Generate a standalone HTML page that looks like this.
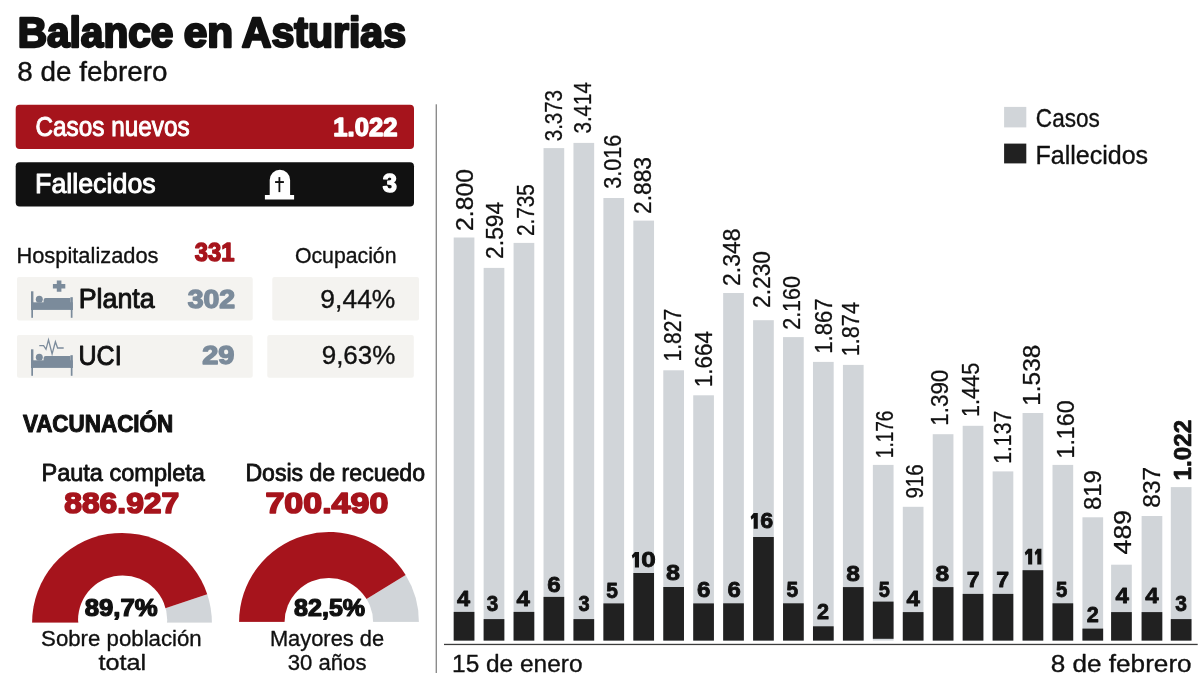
<!DOCTYPE html>
<html lang="es"><head><meta charset="utf-8"><title>Balance en Asturias</title>
<style>
html,body{margin:0;padding:0;background:#fff;}
body{width:1202px;height:686px;overflow:hidden;font-family:"Liberation Sans",sans-serif;}
svg{display:block;will-change:transform;font-family:"Liberation Sans",sans-serif;}
</style></head><body>
<svg width="1202" height="686" viewBox="0 0 1202 686">
<rect width="1202" height="686" fill="#fff"/>
<text x="17.76" y="47.20" font-size="42.00" font-weight="bold" fill="#111" textLength="155.58" lengthAdjust="spacingAndGlyphs" stroke="#111" stroke-width="2.40" stroke-linejoin="round">Balance</text>
<text x="183.71" y="47.20" font-size="42.00" font-weight="bold" fill="#111" textLength="49.42" lengthAdjust="spacingAndGlyphs" stroke="#111" stroke-width="2.40" stroke-linejoin="round">en</text>
<text x="241.77" y="47.20" font-size="42.00" font-weight="bold" fill="#111" textLength="164.23" lengthAdjust="spacingAndGlyphs" stroke="#111" stroke-width="2.40" stroke-linejoin="round">Asturias</text>
<text x="17.35" y="81.10" font-size="27.20" fill="#111" textLength="150.04" lengthAdjust="spacingAndGlyphs" stroke="#111" stroke-width="0.40" stroke-linejoin="round">8 de febrero</text>
<rect x="15.70" y="104.80" width="398.30" height="44.20" fill="#a6141c" rx="4.0"/>
<text x="35.48" y="136.30" font-size="27.80" fill="#fff" textLength="154.11" lengthAdjust="spacingAndGlyphs" stroke="#fff" stroke-width="1.00" stroke-linejoin="round">Casos nuevos</text>
<text x="333.36" y="135.60" font-size="25.20" font-weight="bold" fill="#fff" textLength="64.02" lengthAdjust="spacingAndGlyphs" stroke="#fff" stroke-width="1.40" stroke-linejoin="round">1.022</text>
<rect x="15.70" y="162.30" width="398.30" height="44.30" fill="#111" rx="4.0"/>
<text x="35.06" y="192.70" font-size="27.80" fill="#fff" textLength="120.63" lengthAdjust="spacingAndGlyphs" stroke="#fff" stroke-width="1.00" stroke-linejoin="round">Fallecidos</text>
<text x="382.66" y="192.00" font-size="25.20" font-weight="bold" fill="#fff" textLength="14.16" lengthAdjust="spacingAndGlyphs" stroke="#fff" stroke-width="1.40" stroke-linejoin="round">3</text>
<path d="M269.7 195 V180 A10.2 10.2 0 0 1 290.1 180 V195 H294.1 V199.4 H264.9 V195 Z" fill="#fff"/>
<rect x="278.50" y="177.10" width="1.80" height="15.00" fill="#111"/>
<rect x="275.10" y="181.10" width="8.80" height="1.90" fill="#111"/>
<text x="16.43" y="263.00" font-size="22.60" fill="#111" textLength="142.13" lengthAdjust="spacingAndGlyphs" stroke="#111" stroke-width="0.35" stroke-linejoin="round">Hospitalizados</text>
<text x="194.80" y="260.60" font-size="25.20" font-weight="bold" fill="#a6141c" textLength="39.77" lengthAdjust="spacingAndGlyphs" stroke="#a6141c" stroke-width="1.40" stroke-linejoin="round">331</text>
<text x="294.92" y="263.00" font-size="22.60" fill="#111" textLength="101.60" lengthAdjust="spacingAndGlyphs" stroke="#111" stroke-width="0.35" stroke-linejoin="round">Ocupación</text>
<rect x="17.00" y="277.00" width="235.70" height="43.60" fill="#f4f3f0" rx="2.0"/>
<rect x="272.30" y="277.00" width="146.70" height="43.60" fill="#f4f3f0" rx="2.0"/>
<rect x="17.00" y="334.90" width="235.70" height="42.90" fill="#f4f3f0" rx="2.0"/>
<rect x="267.30" y="334.90" width="146.50" height="42.90" fill="#f4f3f0" rx="2.0"/>
<text x="78.73" y="308.00" font-size="27.20" fill="#111" textLength="76.01" lengthAdjust="spacingAndGlyphs" stroke="#111" stroke-width="0.95" stroke-linejoin="round">Planta</text>
<text x="187.69" y="307.80" font-size="25.20" font-weight="bold" fill="#7b8b9b" textLength="47.45" lengthAdjust="spacingAndGlyphs" stroke="#7b8b9b" stroke-width="1.40" stroke-linejoin="round">302</text>
<text x="320.39" y="307.90" font-size="26.00" fill="#111" textLength="74.98" lengthAdjust="spacingAndGlyphs" stroke="#111" stroke-width="0.35" stroke-linejoin="round">9,44%</text>
<text x="78.50" y="364.60" font-size="27.20" fill="#111" textLength="43.14" lengthAdjust="spacingAndGlyphs" stroke="#111" stroke-width="0.95" stroke-linejoin="round">UCI</text>
<text x="202.29" y="364.40" font-size="25.20" font-weight="bold" fill="#7b8b9b" textLength="32.19" lengthAdjust="spacingAndGlyphs" stroke="#7b8b9b" stroke-width="1.40" stroke-linejoin="round">29</text>
<text x="321.71" y="364.30" font-size="26.00" fill="#111" textLength="73.64" lengthAdjust="spacingAndGlyphs" stroke="#111" stroke-width="0.35" stroke-linejoin="round">9,63%</text>
<g fill="#7b8b9b" transform="translate(0,0.0)"><rect x="31" y="291.3" width="2.4" height="18.6"/><rect x="70.4" y="297.2" width="2.4" height="12.7"/><rect x="31.3" y="309" width="1.7" height="8.8"/><rect x="70.8" y="309" width="1.7" height="8.8"/><rect x="31" y="302.3" width="41.8" height="7.6"/><path d="M43.6 303 V300 Q43.6 298 45.6 298 H70.4 V303 Z"/><circle cx="39.3" cy="299.3" r="3.5"/></g>
<path d="M56.8 280.5 h4.6 v3.4 h3.9 v4.5 h-3.9 v3.4 h-4.6 v-3.4 h-3.9 v-4.5 h3.9 Z" fill="#7b8b9b"/>
<g fill="#7b8b9b" transform="translate(0,58.0)"><rect x="31" y="291.3" width="2.4" height="18.6"/><rect x="70.4" y="297.2" width="2.4" height="12.7"/><rect x="31.3" y="309" width="1.7" height="8.8"/><rect x="70.8" y="309" width="1.7" height="8.8"/><rect x="31" y="302.3" width="41.8" height="7.6"/><path d="M43.6 303 V300 Q43.6 298 45.6 298 H70.4 V303 Z"/><circle cx="39.3" cy="299.3" r="3.5"/></g>
<path d="M39.3 345.7 H43.6 L46 349.3 L48.5 339.8 L52.1 354 L55.4 341.8 L57.6 348 H63.7" fill="none" stroke="#7b8b9b" stroke-width="1.3" stroke-linejoin="miter"/>
<text x="22.89" y="432.10" font-size="23.00" font-weight="bold" fill="#111" textLength="150.35" lengthAdjust="spacingAndGlyphs" stroke="#111" stroke-width="1.00" stroke-linejoin="round">VACUNACIÓN</text>
<text x="41.44" y="480.90" font-size="24.20" fill="#111" textLength="163.50" lengthAdjust="spacingAndGlyphs" stroke="#111" stroke-width="0.85" stroke-linejoin="round">Pauta completa</text>
<text x="245.38" y="480.90" font-size="24.20" fill="#111" textLength="179.67" lengthAdjust="spacingAndGlyphs" stroke="#111" stroke-width="0.85" stroke-linejoin="round">Dosis de recuedo</text>
<text x="64.25" y="513.40" font-size="28.80" font-weight="bold" fill="#a6141c" textLength="114.92" lengthAdjust="spacingAndGlyphs" stroke="#a6141c" stroke-width="1.60" stroke-linejoin="round">886.927</text>
<text x="265.44" y="513.40" font-size="28.80" font-weight="bold" fill="#a6141c" textLength="122.91" lengthAdjust="spacingAndGlyphs" stroke="#a6141c" stroke-width="1.60" stroke-linejoin="round">700.490</text>
<path d="M122.00 622.80 L211.90 622.80 A89.9 89.9 0 0 0 207.23 594.21 Z" fill="#d1d5d9"/>
<path d="M122.00 622.80 L207.23 594.21 A89.9 89.9 0 0 0 32.10 622.80 Z" fill="#a6141c"/>
<circle cx="122.65" cy="620.00" r="44.60" fill="#fff"/>
<rect x="30.10" y="622.80" width="183.80" height="8" fill="#fff"/>
<path d="M329.00 621.90 L418.90 621.90 A89.9 89.9 0 0 0 405.65 574.93 Z" fill="#d1d5d9"/>
<path d="M329.00 621.90 L405.65 574.93 A89.9 89.9 0 0 0 239.10 621.90 Z" fill="#a6141c"/>
<circle cx="328.85" cy="622.20" r="44.30" fill="#fff"/>
<rect x="237.10" y="621.90" width="183.80" height="8" fill="#fff"/>
<text x="84.73" y="615.80" font-size="23.20" font-weight="bold" fill="#111" textLength="73.03" lengthAdjust="spacingAndGlyphs" stroke="#111" stroke-width="1.20" stroke-linejoin="round">89,7%</text>
<text x="294.05" y="615.50" font-size="23.20" font-weight="bold" fill="#111" textLength="71.09" lengthAdjust="spacingAndGlyphs" stroke="#111" stroke-width="1.20" stroke-linejoin="round">82,5%</text>
<text x="41.07" y="646.00" font-size="22.60" fill="#111" textLength="160.65" lengthAdjust="spacingAndGlyphs" stroke="#111" stroke-width="0.35" stroke-linejoin="round">Sobre población</text>
<text x="98.40" y="670.20" font-size="22.60" fill="#111" textLength="47.78" lengthAdjust="spacingAndGlyphs" stroke="#111" stroke-width="0.35" stroke-linejoin="round">total</text>
<text x="269.93" y="646.00" font-size="22.60" fill="#111" textLength="114.17" lengthAdjust="spacingAndGlyphs" stroke="#111" stroke-width="0.35" stroke-linejoin="round">Mayores de</text>
<text x="287.79" y="670.20" font-size="22.60" fill="#111" textLength="78.68" lengthAdjust="spacingAndGlyphs" stroke="#111" stroke-width="0.35" stroke-linejoin="round">30 años</text>
<rect x="435.60" y="104.30" width="1.40" height="568.70" fill="#8c8c8c"/>
<rect x="444.00" y="643.80" width="753.70" height="1.30" fill="#3c3c3c"/>
<rect x="453.70" y="237.50" width="20.70" height="403.10" fill="#d1d5d9"/>
<rect x="453.70" y="611.90" width="20.70" height="28.70" fill="#212121"/>
<rect x="483.64" y="267.90" width="20.70" height="372.70" fill="#d1d5d9"/>
<rect x="483.64" y="619.10" width="20.70" height="21.50" fill="#212121"/>
<rect x="513.58" y="242.90" width="20.70" height="397.70" fill="#d1d5d9"/>
<rect x="513.58" y="611.90" width="20.70" height="28.70" fill="#212121"/>
<rect x="543.52" y="148.10" width="20.70" height="492.50" fill="#d1d5d9"/>
<rect x="543.52" y="596.90" width="20.70" height="43.70" fill="#212121"/>
<rect x="573.46" y="142.90" width="20.70" height="497.70" fill="#d1d5d9"/>
<rect x="573.46" y="619.10" width="20.70" height="21.50" fill="#212121"/>
<rect x="603.40" y="198.00" width="20.70" height="442.60" fill="#d1d5d9"/>
<rect x="603.40" y="603.40" width="20.70" height="37.20" fill="#212121"/>
<rect x="633.34" y="220.60" width="20.70" height="420.00" fill="#d1d5d9"/>
<rect x="633.34" y="573.00" width="20.70" height="67.60" fill="#212121"/>
<rect x="663.28" y="370.30" width="20.70" height="270.30" fill="#d1d5d9"/>
<rect x="663.28" y="587.00" width="20.70" height="53.60" fill="#212121"/>
<rect x="693.22" y="395.30" width="20.70" height="245.30" fill="#d1d5d9"/>
<rect x="693.22" y="603.40" width="20.70" height="37.20" fill="#212121"/>
<rect x="723.16" y="293.00" width="20.70" height="347.60" fill="#d1d5d9"/>
<rect x="723.16" y="603.30" width="20.70" height="37.30" fill="#212121"/>
<rect x="753.10" y="320.20" width="20.70" height="320.40" fill="#d1d5d9"/>
<rect x="753.10" y="537.00" width="20.70" height="103.60" fill="#212121"/>
<rect x="783.04" y="337.10" width="20.70" height="303.50" fill="#d1d5d9"/>
<rect x="783.04" y="603.30" width="20.70" height="37.30" fill="#212121"/>
<rect x="812.98" y="361.90" width="20.70" height="278.70" fill="#d1d5d9"/>
<rect x="812.98" y="626.30" width="20.70" height="14.30" fill="#212121"/>
<rect x="842.92" y="364.90" width="20.70" height="275.70" fill="#d1d5d9"/>
<rect x="842.92" y="587.10" width="20.70" height="53.50" fill="#212121"/>
<rect x="872.86" y="464.90" width="20.70" height="175.70" fill="#d1d5d9"/>
<rect x="872.86" y="601.60" width="20.70" height="37.20" fill="#212121"/>
<rect x="902.80" y="506.80" width="20.70" height="133.80" fill="#d1d5d9"/>
<rect x="902.80" y="612.10" width="20.70" height="28.50" fill="#212121"/>
<rect x="932.74" y="434.20" width="20.70" height="206.40" fill="#d1d5d9"/>
<rect x="932.74" y="587.10" width="20.70" height="53.50" fill="#212121"/>
<rect x="962.68" y="425.80" width="20.70" height="214.80" fill="#d1d5d9"/>
<rect x="962.68" y="593.90" width="20.70" height="46.70" fill="#212121"/>
<rect x="992.62" y="471.40" width="20.70" height="169.20" fill="#d1d5d9"/>
<rect x="992.62" y="593.90" width="20.70" height="46.70" fill="#212121"/>
<rect x="1022.56" y="413.00" width="20.70" height="227.60" fill="#d1d5d9"/>
<rect x="1022.56" y="570.20" width="20.70" height="70.40" fill="#212121"/>
<rect x="1052.50" y="464.90" width="20.70" height="175.70" fill="#d1d5d9"/>
<rect x="1052.50" y="603.30" width="20.70" height="37.30" fill="#212121"/>
<rect x="1082.44" y="517.30" width="20.70" height="123.30" fill="#d1d5d9"/>
<rect x="1082.44" y="628.60" width="20.70" height="12.00" fill="#212121"/>
<rect x="1111.10" y="564.70" width="20.70" height="75.90" fill="#d1d5d9"/>
<rect x="1111.10" y="612.10" width="20.70" height="28.50" fill="#212121"/>
<rect x="1141.60" y="516.00" width="20.70" height="124.60" fill="#d1d5d9"/>
<rect x="1141.60" y="612.10" width="20.70" height="28.50" fill="#212121"/>
<rect x="1170.80" y="487.10" width="20.70" height="153.50" fill="#d1d5d9"/>
<rect x="1170.80" y="619.10" width="20.70" height="21.50" fill="#212121"/>
<text transform="translate(472.90,230.89) rotate(-90)" font-size="23.20" fill="#111" textLength="61.86" lengthAdjust="spacingAndGlyphs" stroke="#111" stroke-width="0.30" stroke-linejoin="round">2.800</text>
<text transform="translate(503.30,258.89) rotate(-90)" font-size="23.20" fill="#111" textLength="57.18" lengthAdjust="spacingAndGlyphs" stroke="#111" stroke-width="0.30" stroke-linejoin="round">2.594</text>
<text transform="translate(534.00,236.09) rotate(-90)" font-size="23.20" fill="#111" textLength="52.02" lengthAdjust="spacingAndGlyphs" stroke="#111" stroke-width="0.30" stroke-linejoin="round">2.735</text>
<text transform="translate(562.00,141.27) rotate(-90)" font-size="23.20" fill="#111" textLength="51.29" lengthAdjust="spacingAndGlyphs" stroke="#111" stroke-width="0.30" stroke-linejoin="round">3.373</text>
<text transform="translate(591.40,133.57) rotate(-90)" font-size="23.20" fill="#111" textLength="51.59" lengthAdjust="spacingAndGlyphs" stroke="#111" stroke-width="0.30" stroke-linejoin="round">3.414</text>
<text transform="translate(620.70,188.71) rotate(-90)" font-size="23.20" fill="#111" textLength="54.08" lengthAdjust="spacingAndGlyphs" stroke="#111" stroke-width="0.30" stroke-linejoin="round">3.016</text>
<text transform="translate(651.10,213.99) rotate(-90)" font-size="23.20" fill="#111" textLength="57.01" lengthAdjust="spacingAndGlyphs" stroke="#111" stroke-width="0.30" stroke-linejoin="round">2.883</text>
<text transform="translate(681.00,361.43) rotate(-90)" font-size="23.20" fill="#111" textLength="52.58" lengthAdjust="spacingAndGlyphs" stroke="#111" stroke-width="0.30" stroke-linejoin="round">1.827</text>
<text transform="translate(712.10,387.13) rotate(-90)" font-size="23.20" fill="#111" textLength="56.21" lengthAdjust="spacingAndGlyphs" stroke="#111" stroke-width="0.30" stroke-linejoin="round">1.664</text>
<text transform="translate(739.60,285.90) rotate(-90)" font-size="23.20" fill="#111" textLength="57.32" lengthAdjust="spacingAndGlyphs" stroke="#111" stroke-width="0.30" stroke-linejoin="round">2.348</text>
<text transform="translate(769.60,307.89) rotate(-90)" font-size="23.20" fill="#111" textLength="56.89" lengthAdjust="spacingAndGlyphs" stroke="#111" stroke-width="0.30" stroke-linejoin="round">2.230</text>
<text transform="translate(799.50,329.83) rotate(-90)" font-size="23.20" fill="#111" textLength="53.88" lengthAdjust="spacingAndGlyphs" stroke="#111" stroke-width="0.30" stroke-linejoin="round">2.160</text>
<text transform="translate(832.00,353.81) rotate(-90)" font-size="23.20" fill="#111" textLength="55.42" lengthAdjust="spacingAndGlyphs" stroke="#111" stroke-width="0.30" stroke-linejoin="round">1.867</text>
<text transform="translate(859.00,356.28) rotate(-90)" font-size="23.20" fill="#111" textLength="54.23" lengthAdjust="spacingAndGlyphs" stroke="#111" stroke-width="0.30" stroke-linejoin="round">1.874</text>
<text transform="translate(892.50,458.18) rotate(-90)" font-size="23.20" fill="#111" textLength="47.64" lengthAdjust="spacingAndGlyphs" stroke="#111" stroke-width="0.30" stroke-linejoin="round">1.176</text>
<text transform="translate(922.70,498.57) rotate(-90)" font-size="23.20" fill="#111" textLength="34.21" lengthAdjust="spacingAndGlyphs" stroke="#111" stroke-width="0.30" stroke-linejoin="round">916</text>
<text transform="translate(948.40,425.73) rotate(-90)" font-size="23.20" fill="#111" textLength="56.02" lengthAdjust="spacingAndGlyphs" stroke="#111" stroke-width="0.30" stroke-linejoin="round">1.390</text>
<text transform="translate(978.60,416.97) rotate(-90)" font-size="23.20" fill="#111" textLength="54.14" lengthAdjust="spacingAndGlyphs" stroke="#111" stroke-width="0.30" stroke-linejoin="round">1.445</text>
<text transform="translate(1010.70,463.84) rotate(-90)" font-size="23.20" fill="#111" textLength="53.10" lengthAdjust="spacingAndGlyphs" stroke="#111" stroke-width="0.30" stroke-linejoin="round">1.137</text>
<text transform="translate(1040.20,405.67) rotate(-90)" font-size="23.20" fill="#111" textLength="60.86" lengthAdjust="spacingAndGlyphs" stroke="#111" stroke-width="0.30" stroke-linejoin="round">1.538</text>
<text transform="translate(1073.90,458.49) rotate(-90)" font-size="23.20" fill="#111" textLength="58.11" lengthAdjust="spacingAndGlyphs" stroke="#111" stroke-width="0.30" stroke-linejoin="round">1.160</text>
<text transform="translate(1101.30,510.03) rotate(-90)" font-size="23.20" fill="#111" textLength="39.94" lengthAdjust="spacingAndGlyphs" stroke="#111" stroke-width="0.30" stroke-linejoin="round">819</text>
<text transform="translate(1130.80,554.38) rotate(-90)" font-size="23.20" fill="#111" textLength="44.42" lengthAdjust="spacingAndGlyphs" stroke="#111" stroke-width="0.30" stroke-linejoin="round">489</text>
<text transform="translate(1160.00,507.76) rotate(-90)" font-size="23.20" fill="#111" textLength="41.02" lengthAdjust="spacingAndGlyphs" stroke="#111" stroke-width="0.30" stroke-linejoin="round">837</text>
<text transform="translate(1191.20,480.50) rotate(-90)" font-size="23.20" font-weight="bold" fill="#111" textLength="60.68" lengthAdjust="spacingAndGlyphs" stroke="#111" stroke-width="0.70" stroke-linejoin="round">1.022</text>
<text x="457.05" y="605.90" font-size="21.20" font-weight="bold" fill="#111" textLength="13.10" lengthAdjust="spacingAndGlyphs" stroke="#111" stroke-width="0.80" stroke-linejoin="round">4</text>
<text x="486.78" y="611.10" font-size="21.20" font-weight="bold" fill="#111" textLength="11.46" lengthAdjust="spacingAndGlyphs" stroke="#111" stroke-width="0.80" stroke-linejoin="round">3</text>
<text x="516.64" y="605.90" font-size="21.20" font-weight="bold" fill="#111" textLength="13.41" lengthAdjust="spacingAndGlyphs" stroke="#111" stroke-width="0.80" stroke-linejoin="round">4</text>
<text x="547.36" y="592.00" font-size="21.20" font-weight="bold" fill="#111" textLength="13.42" lengthAdjust="spacingAndGlyphs" stroke="#111" stroke-width="0.80" stroke-linejoin="round">6</text>
<text x="578.40" y="611.10" font-size="21.20" font-weight="bold" fill="#111" textLength="11.12" lengthAdjust="spacingAndGlyphs" stroke="#111" stroke-width="0.80" stroke-linejoin="round">3</text>
<text x="606.17" y="597.50" font-size="21.20" font-weight="bold" fill="#111" textLength="11.68" lengthAdjust="spacingAndGlyphs" stroke="#111" stroke-width="0.80" stroke-linejoin="round">5</text>
<path d="M634.90 551.90 H639.00 V567.60 H634.90 V556.60 L632.70 558.60 L631.80 555.60 Z" fill="#111"/>
<text x="641.36" y="567.30" font-size="21.20" font-weight="bold" fill="#111" textLength="14.52" lengthAdjust="spacingAndGlyphs" stroke="#111" stroke-width="0.80" stroke-linejoin="round">0</text>
<text x="665.94" y="580.30" font-size="21.20" font-weight="bold" fill="#111" textLength="14.04" lengthAdjust="spacingAndGlyphs" stroke="#111" stroke-width="0.80" stroke-linejoin="round">8</text>
<text x="697.06" y="597.30" font-size="21.20" font-weight="bold" fill="#111" textLength="13.42" lengthAdjust="spacingAndGlyphs" stroke="#111" stroke-width="0.80" stroke-linejoin="round">6</text>
<text x="727.56" y="597.10" font-size="21.20" font-weight="bold" fill="#111" textLength="13.30" lengthAdjust="spacingAndGlyphs" stroke="#111" stroke-width="0.80" stroke-linejoin="round">6</text>
<path d="M753.70 513.00 H757.80 V528.70 H753.70 V517.70 L751.50 519.70 L750.60 516.70 Z" fill="#111"/>
<text x="760.38" y="528.40" font-size="21.20" font-weight="bold" fill="#111" textLength="12.96" lengthAdjust="spacingAndGlyphs" stroke="#111" stroke-width="0.80" stroke-linejoin="round">6</text>
<text x="786.57" y="597.10" font-size="21.20" font-weight="bold" fill="#111" textLength="11.68" lengthAdjust="spacingAndGlyphs" stroke="#111" stroke-width="0.80" stroke-linejoin="round">5</text>
<text x="816.94" y="619.30" font-size="21.20" font-weight="bold" fill="#111" textLength="12.05" lengthAdjust="spacingAndGlyphs" stroke="#111" stroke-width="0.80" stroke-linejoin="round">2</text>
<text x="846.36" y="580.70" font-size="21.20" font-weight="bold" fill="#111" textLength="13.71" lengthAdjust="spacingAndGlyphs" stroke="#111" stroke-width="0.80" stroke-linejoin="round">8</text>
<text x="878.70" y="597.10" font-size="21.20" font-weight="bold" fill="#111" textLength="11.12" lengthAdjust="spacingAndGlyphs" stroke="#111" stroke-width="0.80" stroke-linejoin="round">5</text>
<text x="906.44" y="605.80" font-size="21.20" font-weight="bold" fill="#111" textLength="13.41" lengthAdjust="spacingAndGlyphs" stroke="#111" stroke-width="0.80" stroke-linejoin="round">4</text>
<text x="935.46" y="580.70" font-size="21.20" font-weight="bold" fill="#111" textLength="13.71" lengthAdjust="spacingAndGlyphs" stroke="#111" stroke-width="0.80" stroke-linejoin="round">8</text>
<text x="966.67" y="586.60" font-size="21.20" font-weight="bold" fill="#111" textLength="12.88" lengthAdjust="spacingAndGlyphs" stroke="#111" stroke-width="0.80" stroke-linejoin="round">7</text>
<text x="996.27" y="586.60" font-size="21.20" font-weight="bold" fill="#111" textLength="12.88" lengthAdjust="spacingAndGlyphs" stroke="#111" stroke-width="0.80" stroke-linejoin="round">7</text>
<path d="M1028.10 548.80 H1032.20 V564.50 H1028.10 V553.50 L1025.70 555.50 L1024.80 552.50 Z" fill="#111"/>
<path d="M1037.30 548.80 H1041.40 V564.50 H1037.30 V553.50 L1035.60 555.50 L1034.70 552.50 Z" fill="#111"/>
<text x="1055.99" y="597.10" font-size="21.20" font-weight="bold" fill="#111" textLength="11.35" lengthAdjust="spacingAndGlyphs" stroke="#111" stroke-width="0.80" stroke-linejoin="round">5</text>
<text x="1086.84" y="622.00" font-size="21.20" font-weight="bold" fill="#111" textLength="12.05" lengthAdjust="spacingAndGlyphs" stroke="#111" stroke-width="0.80" stroke-linejoin="round">2</text>
<text x="1115.44" y="603.30" font-size="21.20" font-weight="bold" fill="#111" textLength="13.41" lengthAdjust="spacingAndGlyphs" stroke="#111" stroke-width="0.80" stroke-linejoin="round">4</text>
<text x="1145.34" y="603.30" font-size="21.20" font-weight="bold" fill="#111" textLength="13.41" lengthAdjust="spacingAndGlyphs" stroke="#111" stroke-width="0.80" stroke-linejoin="round">4</text>
<text x="1175.17" y="611.10" font-size="21.20" font-weight="bold" fill="#111" textLength="11.68" lengthAdjust="spacingAndGlyphs" stroke="#111" stroke-width="0.80" stroke-linejoin="round">3</text>
<text x="452.04" y="671.60" font-size="24.60" fill="#111" textLength="130.53" lengthAdjust="spacingAndGlyphs" stroke="#111" stroke-width="0.35" stroke-linejoin="round">15 de enero</text>
<text x="1050.70" y="671.50" font-size="24.60" fill="#111" textLength="140.94" lengthAdjust="spacingAndGlyphs" stroke="#111" stroke-width="0.35" stroke-linejoin="round">8 de febrero</text>
<rect x="1004.10" y="106.90" width="22.20" height="20.50" fill="#d1d5d9"/>
<rect x="1004.10" y="143.60" width="22.20" height="19.80" fill="#212121"/>
<text x="1035.85" y="126.90" font-size="25.20" fill="#111" textLength="63.96" lengthAdjust="spacingAndGlyphs" stroke="#111" stroke-width="0.35" stroke-linejoin="round">Casos</text>
<text x="1035.47" y="163.60" font-size="25.20" fill="#111" textLength="112.58" lengthAdjust="spacingAndGlyphs" stroke="#111" stroke-width="0.35" stroke-linejoin="round">Fallecidos</text>
</svg>
</body></html>
